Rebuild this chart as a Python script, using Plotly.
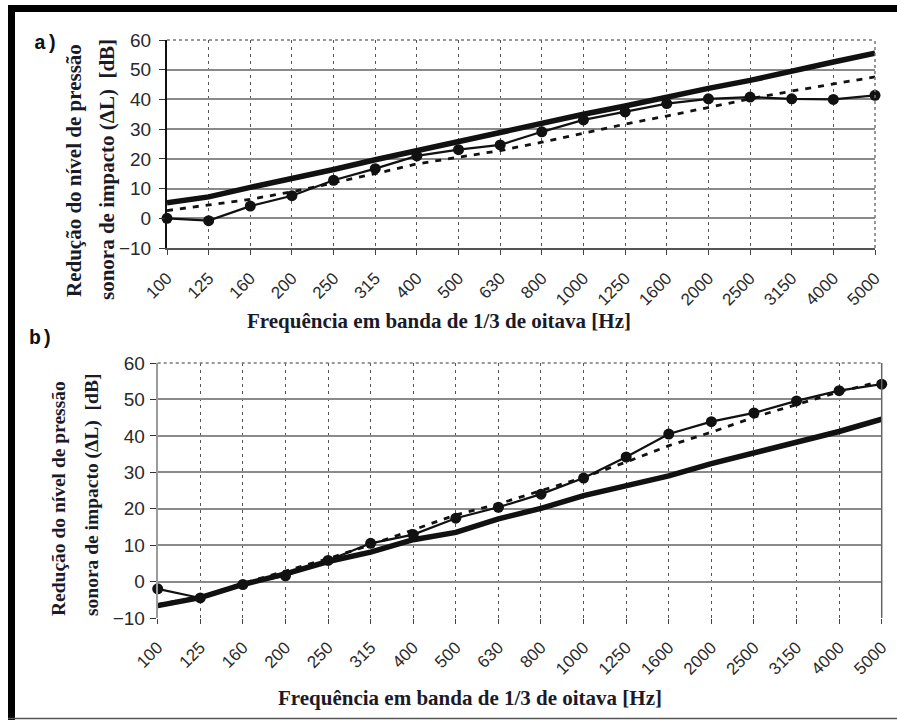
import plotly.graph_objects as go

# 1/3-octave band centre frequencies [Hz]
freq_labels = ["100", "125", "160", "200", "250", "315", "400", "500", "630",
               "800", "1000", "1250", "1600", "2000", "2500", "3150", "4000", "5000"]

# a) impact sound pressure level reduction ΔL [dB]
a_measured = [0.0, -0.8, 4.1, 7.6, 12.8, 16.7, 21.0, 23.1, 24.7, 29.1,
              33.1, 35.8, 38.6, 40.2, 40.8, 40.2, 40.0, 41.4]
a_reference = [5.2, 7.2, 10.4, 13.2, 16.4, 19.7, 22.8, 25.6, 28.6, 31.9,
               35.0, 37.8, 40.9, 43.7, 46.4, 49.7, 52.6, 55.6]
a_trend = [2.6, 4.4, 6.4, 8.9, 11.9, 15.0, 18.3, 20.6, 22.8, 25.6,
           28.7, 31.7, 34.4, 37.4, 40.2, 42.8, 45.2, 47.6]

# b) impact sound pressure level reduction ΔL [dB]
b_measured = [-2.0, -4.5, -0.8, 1.6, 5.8, 10.5, 12.9, 17.4, 20.4, 24.0,
              28.4, 34.2, 40.5, 43.9, 46.3, 49.6, 52.4, 54.2]
b_reference = [-6.6, -4.4, -0.8, 2.1, 5.5, 8.1, 11.5, 13.5, 17.2, 20.1,
               23.6, 26.2, 29.0, 32.4, 35.3, 38.2, 41.2, 44.6]
b_trend = [-6.3, -4.2, -0.5, 2.8, 6.3, 10.1, 14.3, 18.3, 21.3, 25.0,
           28.6, 32.8, 37.3, 41.0, 45.1, 48.6, 52.1, 55.0]

W, H = 897, 720
INK = "#111111"
TITLE_INK = "#1a1a28"


def px(x):
    return x / W


def py(y):
    return 1 - y / H


fig = go.Figure()


def add_panel(xa, ya, measured, reference, trend):
    fig.add_trace(go.Scatter(x=freq_labels, y=reference, mode="lines",
                             line=dict(color=INK, width=5.5), xaxis=xa, yaxis=ya,
                             cliponaxis=False, showlegend=False))
    fig.add_trace(go.Scatter(x=freq_labels, y=trend, mode="lines",
                             line=dict(color=INK, width=2.8, dash="6px,7px"),
                             xaxis=xa, yaxis=ya, cliponaxis=False, showlegend=False))
    fig.add_trace(go.Scatter(x=freq_labels, y=measured, mode="lines+markers",
                             line=dict(color=INK, width=2.2),
                             marker=dict(color=INK, size=11),
                             xaxis=xa, yaxis=ya, cliponaxis=False, showlegend=False))


add_panel("x", "y", a_measured, a_reference, a_trend)
add_panel("x2", "y2", b_measured, b_reference, b_trend)

xtick_font = dict(family="Liberation Sans", size=17, color="#2a2a2a")
ytick_font = dict(family="Liberation Sans", size=19, color="#2a2a2a")


def xaxis_cfg(domain, anchor):
    return dict(domain=domain, anchor=anchor, type="category",
                categoryorder="array", categoryarray=freq_labels,
                range=[0, 17], tickangle=-45, tickfont=xtick_font,
                ticks="outside", ticklen=5, tickcolor="#444", ticklabelstandoff=7,
                automargin=False,
                showgrid=True, gridcolor="#555555", gridwidth=1, griddash="3px,4px",
                showline=True, linecolor="#555555", linewidth=1.5,
                zeroline=False, fixedrange=True)


def yaxis_cfg(domain, anchor, linecolor, standoff):
    return dict(domain=domain, anchor=anchor, range=[-10, 60], dtick=10,
                tick0=0, tickfont=ytick_font, ticks="outside", ticklen=6,
                tickcolor="#333", ticklabelstandoff=standoff, automargin=False,
                showgrid=True, gridcolor="#8a8a8a", gridwidth=1.5,
                showline=True, linecolor=linecolor, linewidth=2,
                zeroline=False, fixedrange=True)


fig.update_layout(
    template="none",
    width=W, height=H,
    margin=dict(l=0, r=0, t=0, b=0, pad=0, autoexpand=False),
    paper_bgcolor="white", plot_bgcolor="white",
    xaxis=xaxis_cfg([px(167), px(875)], "y"),
    yaxis=yaxis_cfg([py(248), py(40)], "x", "#111111", 4),
    xaxis2=xaxis_cfg([px(157.7), px(881.7)], "y2"),
    yaxis2=yaxis_cfg([py(618), py(363)], "x2", "#9a9a9a", 1),
)
fig.layout.xaxis2.showline = False

# plot-area borders (top and right)
shapes = []
for xr, yr in [("x domain", "y domain"), ("x2 domain", "y2 domain")]:
    shapes.append(dict(type="line", xref=xr, yref=yr, x0=0, x1=1, y0=1, y1=1,
                       line=dict(color="#777777", width=1.5, dash="dot")))
shapes.append(dict(type="line", xref="x domain", yref="y domain", x0=1, x1=1,
                   y0=0, y1=1, line=dict(color="#777777", width=1.5, dash="dot")))
shapes.append(dict(type="line", xref="x2 domain", yref="y2 domain", x0=1, x1=1,
                   y0=0, y1=1, line=dict(color="#666666", width=1.5)))

# page frame: heavy top and left rules, thin bottom rule
shapes.append(dict(type="rect", xref="paper", yref="paper", x0=px(8), x1=1,
                   y0=py(12), y1=py(5), fillcolor="black", line=dict(width=0)))
shapes.append(dict(type="rect", xref="paper", yref="paper", x0=px(8), x1=px(15),
                   y0=0, y1=py(5), fillcolor="black", line=dict(width=0)))
shapes.append(dict(type="line", xref="paper", yref="paper", x0=px(8), x1=1,
                   y0=py(718.5), y1=py(718.5), line=dict(color="#555555", width=1.5)))
fig.update_layout(shapes=shapes)

serif_bold = dict(family="Liberation Serif", size=21, color=TITLE_INK, weight="bold")
serif_bold_b = dict(family="Liberation Serif", size=19.5, color=TITLE_INK, weight="bold")
mono_bold = dict(family="Courier New, Liberation Mono", size=20, color=INK, weight="bold")

ann = []


def text(x, y, s, font, angle=0):
    ann.append(dict(x=px(x), y=py(y), xref="paper", yref="paper", text=s,
                    showarrow=False, font=font, textangle=angle,
                    xanchor="center", yanchor="middle"))


# panel a
text(46, 43, "a)", mono_bold)
text(74, 171, "Redução do nível de pressão", serif_bold, -90)
text(107, 170, "sonora de impacto (ΔL)  [dB]", serif_bold, -90)
text(439, 321, "Frequência em banda de 1/3 de oitava [Hz]", serif_bold)

# panel b
text(41, 338, "b)", mono_bold)
text(58, 499, "Redução do nível de pressão", serif_bold_b, -90)
text(92, 495, "sonora de impacto (ΔL)  [dB]", serif_bold_b, -90)
text(470, 698, "Frequência em banda de 1/3 de oitava [Hz]", serif_bold)

fig.update_layout(annotations=ann)

fig.write_html("out.html")
